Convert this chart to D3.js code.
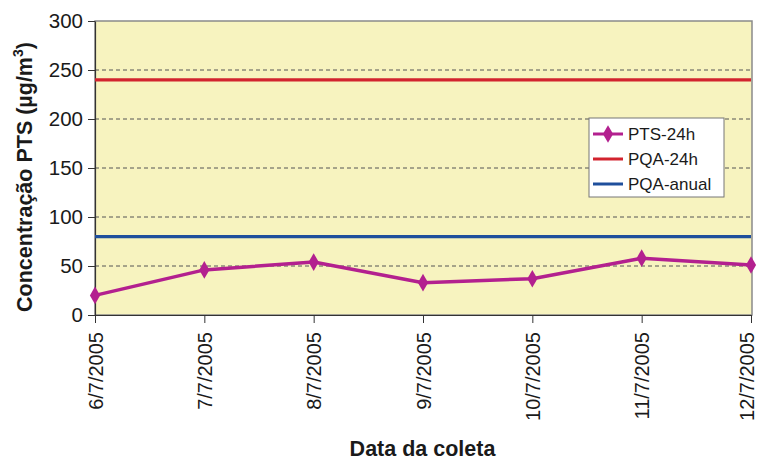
<!DOCTYPE html>
<html>
<head>
<meta charset="utf-8">
<script src="https://cdn.jsdelivr.net/npm/d3@7"></script>
<style>
  html, body { margin: 0; padding: 0; background: #ffffff; }
  svg { display: block; font-family: Arial, "Liberation Sans", sans-serif; }
</style>
</head>
<body>
<svg id="chart" width="758" height="463"></svg>
<script>
// Sampling dates (x categories)
const dates = ["6/7/2005", "7/7/2005", "8/7/2005", "9/7/2005", "10/7/2005", "11/7/2005", "12/7/2005"];
// Measured total suspended particles, 24h samples (µg/m³)
const pts24h = [20, 46, 54, 33, 37, 58, 51];
// Air quality standards (µg/m³)
const pqa24h = [240, 240, 240, 240, 240, 240, 240];
const pqaAnual = [80, 80, 80, 80, 80, 80, 80];
const yTicks = [0, 50, 100, 150, 200, 250, 300];

const seriesNames = ["PTS-24h", "PQA-24h", "PQA-anual"];
const colors = { "PTS-24h": "#b3208f", "PQA-24h": "#d2232e", "PQA-anual": "#1f4f9c" };

const svg = d3.select("#chart");
const plot = { left: 95, right: 752, top: 21, bottom: 315 };

const x = d3.scalePoint().domain(dates).range([plot.left, plot.right - 1]);
const y = d3.scaleLinear().domain([0, 300]).range([plot.bottom, plot.top]);

// Plot background
svg.append("rect")
  .attr("x", plot.left).attr("y", plot.top)
  .attr("width", plot.right - plot.left).attr("height", plot.bottom - plot.top)
  .attr("fill", "#f7f3bf");

// Dashed horizontal gridlines
svg.append("g").selectAll("line")
  .data(yTicks.filter(d => d > 0 && d < 300))
  .join("line")
  .attr("x1", plot.left).attr("x2", plot.right)
  .attr("y1", d => y(d)).attr("y2", d => y(d))
  .attr("stroke", "#555")
  .attr("stroke-width", 1)
  .attr("stroke-dasharray", "4,3");

// Plot frame
svg.append("rect")
  .attr("x", plot.left).attr("y", plot.top)
  .attr("width", plot.right - plot.left).attr("height", plot.bottom - plot.top)
  .attr("fill", "none").attr("stroke", "#8a8a8a").attr("stroke-width", 1.5);

// Y axis
const yAxis = svg.append("g")
  .attr("transform", `translate(${plot.left},0)`)
  .call(d3.axisLeft(y).tickValues(yTicks).tickSize(7).tickPadding(5).tickSizeOuter(0));
yAxis.select(".domain").attr("stroke", "#333").attr("stroke-width", 1.2);
yAxis.selectAll(".tick line").attr("stroke", "#333");
yAxis.selectAll("text").attr("font-size", 20.5).attr("fill", "#1a1a1a")
  .attr("font-family", "Arial, 'Liberation Sans', sans-serif");

// X axis with rotated date labels
const xAxis = svg.append("g")
  .attr("transform", `translate(0,${plot.bottom})`)
  .call(d3.axisBottom(x).tickSize(8).tickSizeOuter(0));
xAxis.select(".domain").attr("stroke", "#333").attr("stroke-width", 1.2);
xAxis.selectAll(".tick line").attr("stroke", "#333");
xAxis.selectAll("text")
  .attr("font-size", 20).attr("fill", "#1a1a1a")
  .attr("font-family", "Arial, 'Liberation Sans', sans-serif")
  .attr("transform", "rotate(-90)")
  .attr("text-anchor", "end")
  .attr("x", -17)
  // the last label hugs the right edge, nudge it inward so it stays visible
  .attr("y", (d, i) => (i === dates.length - 1 ? -5 : 0))
  .attr("dy", "0.36em");

// Axis titles
svg.append("text")
  .attr("x", (plot.left + plot.right) / 2 - 1).attr("y", 456)
  .attr("text-anchor", "middle")
  .attr("font-size", 21.5).attr("font-weight", "bold").attr("fill", "#1a1a1a")
  .text("Data da coleta");

const yTitle = svg.append("text")
  .attr("transform", `translate(32,${(plot.top + plot.bottom) / 2 + 9}) rotate(-90)`)
  .attr("text-anchor", "middle")
  .attr("font-size", 21.5).attr("font-weight", "bold").attr("fill", "#1a1a1a");
yTitle.append("tspan").text("Concentração PTS (µg/m");
yTitle.append("tspan").attr("font-size", 14).attr("dy", -9).text("3");
yTitle.append("tspan").attr("dy", 9).text(")");

// Lines
const line = d3.line().x((d, i) => x(dates[i])).y(d => y(d));
const seriesData = { "PTS-24h": pts24h, "PQA-24h": pqa24h, "PQA-anual": pqaAnual };

["PQA-24h", "PQA-anual", "PTS-24h"].forEach(name => {
  svg.append("path")
    .datum(seriesData[name])
    .attr("d", line)
    .attr("fill", "none")
    .attr("stroke", colors[name])
    .attr("stroke-width", name === "PTS-24h" ? 3.5 : 3.2)
    .attr("stroke-linejoin", "round");
});

// Diamond markers for the measured series
const diamond = d3.symbol().type(d3.symbolDiamond).size(90);
svg.append("g").selectAll("path")
  .data(pts24h)
  .join("path")
  .attr("d", diamond)
  .attr("transform", (d, i) => `translate(${x(dates[i])},${y(d)})`)
  .attr("fill", colors["PTS-24h"]);

// Legend
const legend = svg.append("g").attr("transform", "translate(589,118)");
legend.append("rect")
  .attr("width", 135).attr("height", 79)
  .attr("fill", "#ffffff").attr("stroke", "#777").attr("stroke-width", 1);
seriesNames.forEach((name, i) => {
  const cy = 16 + i * 25;
  legend.append("line")
    .attr("x1", 4).attr("x2", 34).attr("y1", cy).attr("y2", cy)
    .attr("stroke", colors[name]).attr("stroke-width", 3);
  if (name === "PTS-24h") {
    legend.append("path").attr("d", diamond)
      .attr("transform", `translate(19,${cy})`).attr("fill", colors[name]);
  }
  legend.append("text")
    .attr("x", 39).attr("y", cy).attr("dy", "0.36em")
    .attr("font-size", 17).attr("fill", "#1a1a1a")
    .text(name);
});
</script>
</body>
</html>
